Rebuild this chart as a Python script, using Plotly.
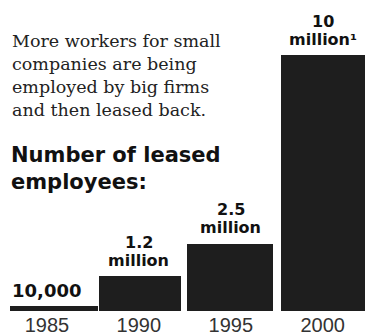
import plotly.graph_objects as go

years = [1985, 1990, 1995, 2000]
values_m = [0.01, 1.2, 2.5, 10.0]          # leased employees, millions
value_numbers = ["10,000", "1.2", "2.5", "10"]
value_units = ["", "million", "million", "million\u00b9"]
intro_lines = ["More workers for small", "companies are being",
               "employed by big firms", "and then leased back."]
title_lines = ["Number of leased", "employees:"]

BASE = -0.18
W, H = 365, 336
PLOT_BOTTOM = 311
YMAX = 12.21

def paper_y(px):
    return (PLOT_BOTTOM - px) / PLOT_BOTTOM

fig = go.Figure()
fig.add_trace(go.Bar(
    x=years, y=[v - BASE for v in values_m], base=BASE,
    width=[4.8, 4.45, 4.7, 4.55], offset=[-2.0, -2.15, -2.4, -2.25],
    marker=dict(color="#1e1e1e", line=dict(width=0)),
    hoverinfo="skip",
))

anns = []
lab_font = dict(family="DejaVu Sans", size=16, color="#111")
for i, (yr, v, num, unit) in enumerate(zip(years, values_m, value_numbers, value_units)):
    if i == 0:
        anns.append(dict(x=yr - 2.0, y=v, xref="x", yref="y", text="<b>" + num + "</b>",
                         showarrow=False, xanchor="left", yanchor="middle", yshift=16,
                         font=dict(family="DejaVu Sans", size=18, color="#111")))
    else:
        anns.append(dict(x=yr, y=v, xref="x", yref="y", text="<b>" + unit + "</b>",
                         showarrow=False, xanchor="center", yanchor="middle", yshift=16,
                         font=lab_font))
        anns.append(dict(x=yr, y=v, xref="x", yref="y", text="<b>" + num + "</b>",
                         showarrow=False, xanchor="center", yanchor="middle", yshift=34,
                         font=lab_font))

for k, line in enumerate(intro_lines):
    anns.append(dict(x=10 / W, y=paper_y(41 + 23 * k), xref="paper", yref="paper",
                     text=line, showarrow=False, xanchor="left", yanchor="middle",
                     font=dict(family="DejaVu Serif", size=17.5, color="#222")))
for k, line in enumerate(title_lines):
    anns.append(dict(x=9 / W, y=paper_y(155 + 27 * k), xref="paper", yref="paper",
                     text="<b>" + line + "</b>", showarrow=False, xanchor="left", yanchor="middle",
                     font=dict(family="DejaVu Sans", size=21, color="#111")))

fig.update_layout(
    width=W, height=H,
    margin=dict(l=0, r=0, t=0, b=H - PLOT_BOTTOM, autoexpand=False),
    paper_bgcolor="white", plot_bgcolor="white",
    showlegend=False, bargap=0,
    xaxis=dict(range=[1982.45, 2002.3], tickvals=years, ticktext=[str(y) for y in years],
               showgrid=False, zeroline=False, showline=False, ticks="", automargin=False,
               ticklabelstandoff=0,
               tickfont=dict(family="Liberation Sans", size=20, color="#333")),
    yaxis=dict(range=[BASE, YMAX], visible=False, showgrid=False, zeroline=False,
               automargin=False),
    annotations=anns,
)
fig.write_html("out.html")
